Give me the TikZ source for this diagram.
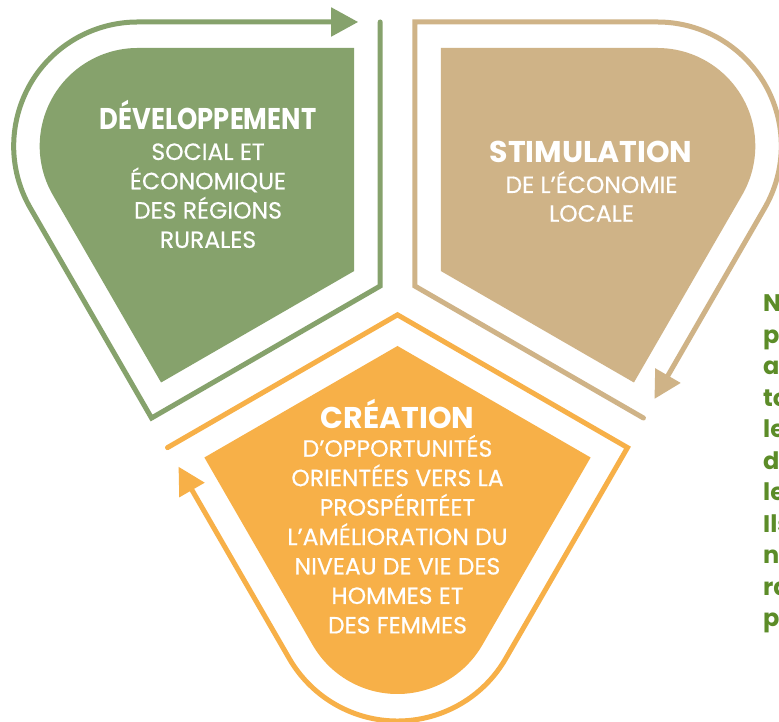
\documentclass[tikz,border=0pt]{standalone}
\usepackage{fontspec}
\setmainfont{Poppins}
\newfontfamily\bodyfont{Poppins}[FakeBold=0.5]
\usetikzlibrary{arrows.meta}
\definecolor{cgreen}{RGB}{134,162,108}
\definecolor{ctan}{RGB}{207,179,135}
\definecolor{corange}{RGB}{247,176,72}
\definecolor{ctext}{RGB}{92,140,40}
\tikzset{
  petaltitle/.style={anchor=base, text=white, font=\bfseries\fontsize{30}{30}\selectfont, inner sep=0pt},
  petalbody/.style={anchor=base, text=white, font=\bodyfont\fontsize{23.5}{23.5}\selectfont, inner sep=0pt},
  sidetext/.style={anchor=base west, text=ctext, font=\bfseries\fontsize{24}{24}\selectfont, inner sep=0pt},
  outline/.style={line width=5pt, line cap=round, line join=miter, -{Triangle[length=27pt,width=28pt]}}
}
\newcommand\drawpetal[6]{%
  \begin{scope}[shift={(#2,#3)}, rotate=#4]
    \fill[#5] (0,0) -- (111.5,193.12) -- (299,84.87) arc[start angle=60,end angle=-60,radius=98] -- (111.5,-193.12) -- cycle;
    \coordinate (#1P) at ({-1.1547*#6},0);
    \coordinate (#1A1) at ({111.5-0.366*#6},{193.12+1.366*#6});
    \coordinate (#1T1) at ({250+0.5*(98+#6)},{0.866*(98+#6)});
    \coordinate (#1A2) at ({111.5-0.366*#6},{-193.12-1.366*#6});
    \coordinate (#1E) at ({111.5-0.366*#6+19.05},{-193.12-1.366*#6+11});
    \draw[outline, #5] (#1A2) -- (#1P) -- (#1A1) -- (#1T1) arc[start angle=60,end angle=-60,radius={98+#6}] -- (#1E);
  \end{scope}}
\begin{document}
\begin{tikzpicture}[x=1pt,y=1pt]
\useasboundingbox (0,0) rectangle (779,722);
\clip (0,0) rectangle (779,722);
\fill[white] (0,0) rectangle (779,722);
\drawpetal{g}{354.2}{451}{150}{cgreen}{26}
\drawpetal{t}{440.8}{451}{30}{ctan}{26}
\drawpetal{o}{397.5}{376}{270}{corange}{27}
% green text
\node[petaltitle] (gtitle) at (208,592) {\scalebox{0.86}[1]{DÉVELOPPEMENT}};
\foreach \t [count=\i] in {SOCIAL ET,ÉCONOMIQUE,DES RÉGIONS,RURALES}
  \node[petalbody] (gb\i) at (208,{562-29.3*(\i-1)}) {\t};
% tan text
\node[petaltitle] (ttitle) at (591,559) {STIMULATION};
\foreach \t [count=\i] in {DE L’ÉCONOMIE,LOCALE}
  \node[petalbody] (tb\i) at (591.5,{529-28.7*(\i-1)}) {\t};
% orange text
\node[petaltitle] (otitle) at (397.5,293.7) {CRÉATION};
\foreach \t [count=\i] in {D’OPPORTUNITÉS,ORIENTÉES VERS LA,PROSPÉRITÉET,L’AMÉLIORATION DU,NIVEAU DE VIE DES,HOMMES ET,DES FEMMES}
  \node[petalbody] (ob\i) at (397.5,{265.3-29.45*(\i-1)}) {\t};
% side text (cut off at right edge)
\foreach \t [count=\i] in {N,p,an,to,le,d,le,Ils,n,ra,p}
  \node[sidetext] (s\i) at (763,{410.3-31.5*(\i-1)}) {\t};
\end{tikzpicture}
\end{document}
